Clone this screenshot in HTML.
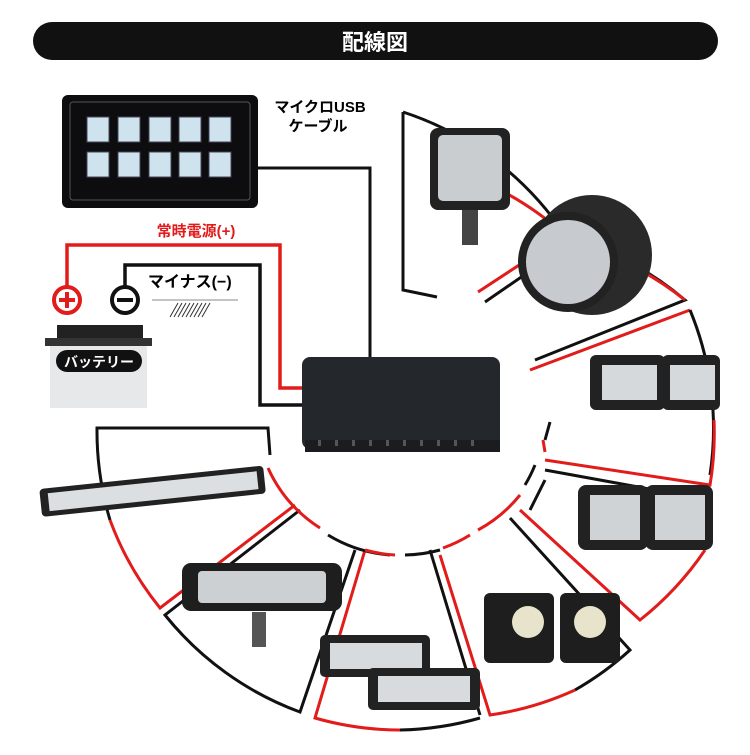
<!DOCTYPE html>
<html><head><meta charset="utf-8"><style>
body{margin:0;background:#fff;width:750px;height:750px;overflow:hidden;font-family:"Liberation Sans","Noto Sans CJK JP",sans-serif}
</style></head><body>
<svg width="750" height="750" viewBox="0 0 750 750" xmlns="http://www.w3.org/2000/svg" font-family="Liberation Sans, Noto Sans CJK JP, sans-serif">
<rect x="33" y="22" width="685" height="38" rx="19" fill="#111"/>
<text x="375" y="50" text-anchor="middle" fill="#fff" font-size="22" font-weight="bold">配線図</text>

<!-- wedge lines -->
<g fill="none" stroke-width="3">
<path d="M403 112 L403 290 L437 297" stroke="#111"/>
<path d="M403 112 A310 310 0 0 1 565 235" stroke="#111"/>
<path d="M490 185 A310 310 0 0 1 565 235 L478 292" stroke="#e21b1b"/>
<path d="M575 240 L485 302" stroke="#111"/>
<path d="M575 240 A310 310 0 0 1 685 300 L535 360" stroke="#111"/>
<path d="M640 270 A310 310 0 0 1 685 300" stroke="#e21b1b"/>
<path d="M690 310 L530 370" stroke="#e21b1b"/>
<path d="M690 310 A310 310 0 0 1 710 475" stroke="#111"/>
<path d="M714 420 A310 310 0 0 1 710 485 L545 460" stroke="#e21b1b"/>
<path d="M545 452 L543 440" stroke="#e21b1b"/>
<path d="M545 440 L550 422" stroke="#111"/>
<path d="M545 470 L710 500 L705 550" stroke="#111"/>
<path d="M530 510 L545 480" stroke="#111"/>
<path d="M705 550 A310 310 0 0 1 640 620 L520 510" stroke="#e21b1b"/>
<path d="M510 518 L630 650 A310 310 0 0 1 575 690" stroke="#111"/>
<path d="M575 690 A310 310 0 0 1 490 715 L440 555" stroke="#e21b1b"/>
<path d="M430 550 L480 715" stroke="#111"/>
<path d="M480 718 A310 310 0 0 1 400 730" stroke="#111"/>
<path d="M400 730 A310 310 0 0 1 315 718 L365 550" stroke="#e21b1b"/>
<path d="M355 550 L300 712 A310 310 0 0 1 165 615 L300 510" stroke="#111"/>
<path d="M295 505 L160 608 A310 310 0 0 1 110 520" stroke="#e21b1b"/>
<path d="M110 520 A310 310 0 0 1 97 428 L268 428 L270 455" stroke="#111"/>
<!-- inner arcs -->
<path d="M268 468 A140 140 0 0 0 320 528" stroke="#e21b1b"/>
<path d="M328 535 A140 140 0 0 0 390 555" stroke="#111"/>
<path d="M365 550 A140 140 0 0 0 395 555" stroke="#e21b1b"/>
<path d="M405 555 A140 140 0 0 0 440 550" stroke="#111"/>
<path d="M443 548 A140 140 0 0 0 470 535" stroke="#e21b1b"/>
<path d="M478 530 A140 140 0 0 0 520 495" stroke="#e21b1b"/>
<path d="M525 485 A140 140 0 0 0 535 465" stroke="#111"/>
</g>

<!-- control panel -->
<rect x="62" y="95" width="196" height="113" rx="6" fill="#0d0d0f"/>
<rect x="70" y="102" width="180" height="98" rx="3" fill="none" stroke="#555" stroke-width="1"/>
<g fill="#cfe3ee" stroke="#445" stroke-width="1">
<rect x="87" y="117" width="22" height="25"/><rect x="118" y="117" width="22" height="25"/><rect x="149" y="117" width="22" height="25"/><rect x="179" y="117" width="22" height="25"/><rect x="209" y="117" width="22" height="25"/>
<rect x="87" y="152" width="22" height="25"/><rect x="118" y="152" width="22" height="25"/><rect x="149" y="152" width="22" height="25"/><rect x="179" y="152" width="22" height="25"/><rect x="209" y="152" width="22" height="25"/>
</g>
<text x="320" y="112" text-anchor="middle" font-size="15" font-weight="bold">マイクロUSB</text>
<text x="318" y="131" text-anchor="middle" font-size="15" font-weight="bold">ケーブル</text>
<path d="M258 168 L370 168 L370 370" fill="none" stroke="#111" stroke-width="3"/>

<text x="196" y="236" text-anchor="middle" font-size="15" font-weight="bold" fill="#e21b1b">常時電源(+)</text>
<path d="M67 290 L67 245 L280 245 L280 388 L310 388" fill="none" stroke="#e21b1b" stroke-width="3.5"/>
<path d="M125 290 L125 265 L260 265 L260 405 L305 405" fill="none" stroke="#111" stroke-width="3.5"/>
<circle cx="67" cy="300" r="13" fill="#fff" stroke="#e21b1b" stroke-width="4"/>
<path d="M59 300 H75 M67 292 V308" stroke="#e21b1b" stroke-width="4"/>
<circle cx="125" cy="300" r="13" fill="#fff" stroke="#111" stroke-width="4"/>
<path d="M117 300 H133" stroke="#111" stroke-width="4"/>
<text x="148" y="287" font-size="16" font-weight="bold">マイナス(−)</text>
<path d="M152 300 H238" stroke="#888" stroke-width="1"/>
<g stroke="#333" stroke-width="1"><path d="M170 317 L178 303 M174 317 L182 303 M178 317 L186 303 M182 317 L190 303 M186 317 L194 303 M190 317 L198 303 M194 317 L202 303 M198 317 L206 303 M202 317 L210 303"/></g>

<!-- battery -->
<rect x="57" y="325" width="86" height="14" fill="#222"/>
<rect x="45" y="338" width="107" height="8" fill="#333"/>
<rect x="50" y="346" width="97" height="62" fill="#e6e8ea"/>
<rect x="56" y="350" width="86" height="22" rx="11" fill="#111"/>
<text x="99" y="367" text-anchor="middle" fill="#fff" font-size="14" font-weight="bold">バッテリー</text>

<!-- control box -->
<rect x="302" y="357" width="198" height="92" rx="8" fill="#24272b"/>
<rect x="305" y="440" width="195" height="12" fill="#1a1c1f"/>
<g fill="#555"><rect x="318" y="440" width="3" height="6"/><rect x="335" y="440" width="3" height="6"/><rect x="352" y="440" width="3" height="6"/><rect x="369" y="440" width="3" height="6"/><rect x="386" y="440" width="3" height="6"/><rect x="403" y="440" width="3" height="6"/><rect x="420" y="440" width="3" height="6"/><rect x="437" y="440" width="3" height="6"/><rect x="454" y="440" width="3" height="6"/><rect x="471" y="440" width="3" height="6"/></g>

<!-- lights -->
<rect x="430" y="128" width="80" height="82" rx="8" fill="#222"/><rect x="438" y="135" width="64" height="66" rx="5" fill="#c9cdd0"/>
<rect x="462" y="210" width="16" height="35" fill="#444"/>
<circle cx="592" cy="255" r="60" fill="#2a2a2a"/><circle cx="568" cy="262" r="50" fill="#222"/><circle cx="568" cy="262" r="42" fill="#c7cbcf"/>
<rect x="590" y="355" width="75" height="55" rx="6" fill="#222"/><rect x="602" y="365" width="55" height="35" fill="#d6d9db"/>
<rect x="662" y="355" width="58" height="55" rx="6" fill="#222"/><rect x="670" y="365" width="45" height="35" fill="#d6d9db"/>
<rect x="578" y="485" width="70" height="65" rx="8" fill="#222"/><rect x="590" y="495" width="50" height="45" fill="#d0d3d5"/>
<rect x="645" y="485" width="68" height="65" rx="8" fill="#222"/><rect x="655" y="495" width="50" height="45" fill="#d0d3d5"/>
<rect x="484" y="593" width="70" height="70" rx="6" fill="#1e1e1e"/><circle cx="528" cy="622" r="16" fill="#e8e4cc"/>
<rect x="560" y="593" width="60" height="70" rx="6" fill="#1e1e1e"/><circle cx="590" cy="622" r="16" fill="#e8e4cc"/>
<rect x="320" y="635" width="110" height="42" rx="5" fill="#222"/><rect x="330" y="643" width="92" height="26" fill="#d8dbdd"/>
<rect x="368" y="668" width="112" height="42" rx="5" fill="#222"/><rect x="378" y="676" width="92" height="26" fill="#d8dbdd"/>
<rect x="182" y="563" width="160" height="48" rx="9" fill="#1e1e1e"/><rect x="198" y="571" width="128" height="32" rx="4" fill="#ccd0d3"/>
<rect x="252" y="612" width="14" height="35" fill="#555"/>
<g transform="rotate(-6 155 490)"><rect x="40" y="477" width="225" height="28" rx="4" fill="#222"/><rect x="48" y="482" width="210" height="18" fill="#dcdfe1"/></g>
</svg>
</body></html>
